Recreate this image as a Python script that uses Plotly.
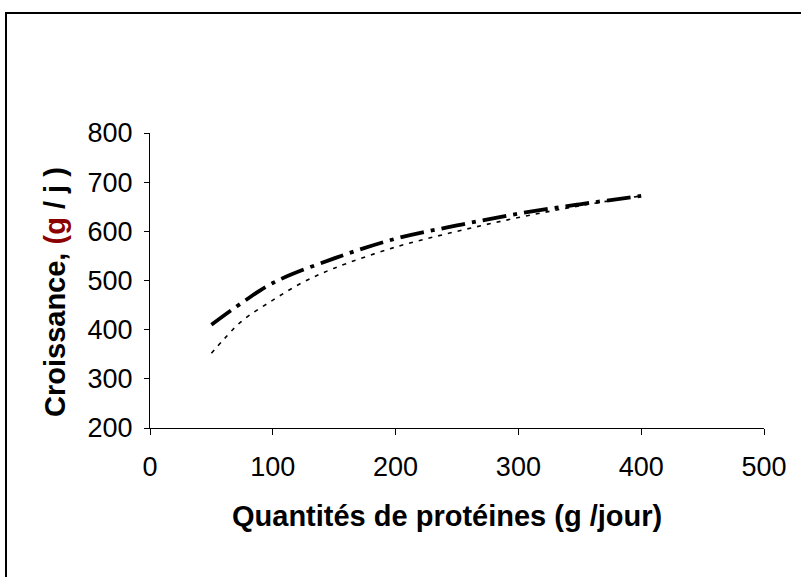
import plotly.graph_objects as go

# Data
x_thick = [50, 75, 100, 150, 200, 250, 300, 350, 400]
y_thick = [410, 455, 495, 545, 585, 612, 636, 655, 672]

x_dot = [50, 60, 75, 100, 125, 150, 200, 250, 300, 350, 400]
y_dot = [352, 380, 418, 460, 497, 525, 568, 600, 628, 652, 672]

x_ticks = [0, 100, 200, 300, 400, 500]
y_ticks = [200, 300, 400, 500, 600, 700, 800]

x_title = "<b>Quantités de protéines (g /jour)</b>"
y_title = "<b>Croissance, <span style='color:#8B0000'>(g</span> / j )</b>"

W, H = 801, 577
ML, MR, MT, MB = 150, 37, 133, 149
PW = W - ML - MR
PH = H - MT - MB


def px_x(p):
    return (p - ML) / PW


def px_y(p):
    return (MT + PH - p) / PH


fig = go.Figure()
fig.add_trace(go.Scatter(
    x=x_dot, y=y_dot, mode="lines", line_shape="spline",
    line=dict(color="black", width=1.6, dash="4px,6px"),
    showlegend=False))
fig.add_trace(go.Scatter(
    x=x_thick, y=y_thick, mode="lines", line_shape="spline",
    line=dict(color="black", width=3.8, dash="24px,7px,4px,7px"),
    showlegend=False))

font = "Liberation Sans, Arial, sans-serif"
fig.update_layout(
    width=W, height=H,
    margin=dict(l=ML, r=MR, t=MT, b=MB),
    paper_bgcolor="white", plot_bgcolor="white",
    font=dict(family=font, size=27, color="black"),
    xaxis=dict(range=[0, 500], tickvals=x_ticks, showgrid=False, zeroline=False,
               showline=True, linecolor="black", linewidth=1,
               ticks="outside", ticklen=6, tickcolor="black",
               tickfont=dict(size=27), ticklabelstandoff=9),
    yaxis=dict(range=[200, 800], tickvals=y_ticks, showgrid=False, zeroline=False,
               showline=True, linecolor="black", linewidth=1,
               ticks="outside", ticklen=5, tickcolor="black",
               tickfont=dict(size=27), ticklabelstandoff=6),
    annotations=[
        dict(text=x_title, xref="paper", yref="paper", x=px_x(447), y=px_y(516),
             xanchor="center", yanchor="middle", showarrow=False,
             font=dict(size=29, family=font, color="black")),
        dict(text=y_title, xref="paper", yref="paper", x=px_x(55), y=px_y(292),
             xanchor="center", yanchor="middle", showarrow=False, textangle=-90,
             font=dict(size=29, family=font, color="black")),
    ],
)

# outer chart border
fig.add_shape(type="rect", xref="paper", yref="paper",
              x0=px_x(6), x1=px_x(W + 20),
              y0=px_y(H + 20), y1=px_y(13),
              line=dict(color="black", width=2), layer="below")

fig.write_html("out.html", config={"displayModeBar": False},
               post_script="document.body.style.margin='0';document.body.style.overflow='hidden';")
